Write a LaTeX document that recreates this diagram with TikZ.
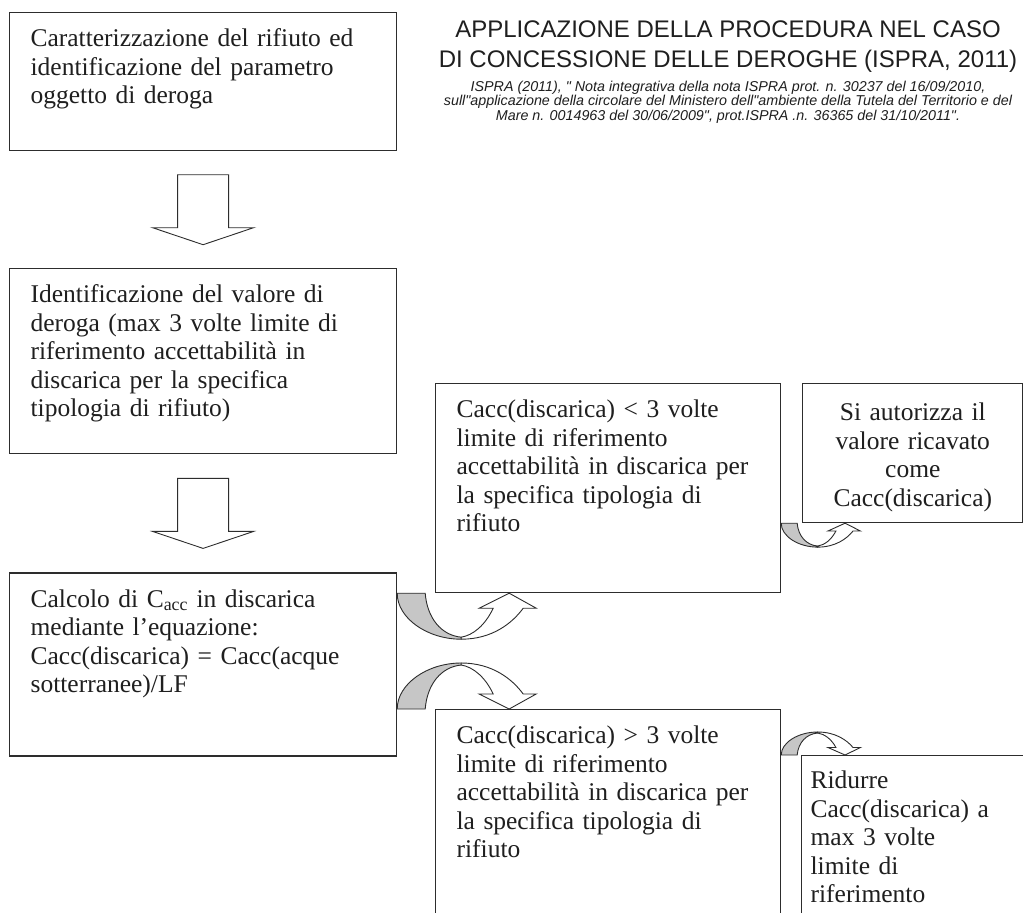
\documentclass[tikz,border=0pt]{standalone}
\usepackage{fontspec}
\setmainfont{Liberation Serif}
\newfontfamily\arial{Liberation Sans}
\usepackage{xcolor}
\usetikzlibrary{positioning,calc}

\definecolor{bordo}{RGB}{45,45,45}
\definecolor{grigio}{RGB}{198,198,198}

\tikzset{
  giu/.pic={
    \draw[freccia] (-25.5,-35) -- (25.5,-35) -- (25.5,18) -- (50.5,18)
      -- (0,35) -- (-50.5,18) -- (-25.5,18) -- cycle;},
  curva/.pic={
    \draw[freccia,fill=grigio] (0,0) -- (28,0) .. controls (30,25) and (44,42) .. (64,44)
      -- (64,46) .. controls (30,46) and (0,25) .. (0,0) -- cycle;
    \draw[freccia] (64,46) .. controls (95,46) and (115,30) .. (126,15) -- (139,15)
      -- (112,0) -- (82,15) -- (96,15) .. controls (88,32) and (76,42) .. (64,44) -- cycle;}
}

\begin{document}
\begin{tikzpicture}[x=1pt,y=-1pt,
  caja/.style={draw=bordo,line width=1.2pt,align=left,anchor=north west,
               inner xsep=21pt,inner ysep=0pt,text height=34pt,text=black!88,
               font=\fontsize{25.5}{28.5}\selectfont},
  freccia/.style={draw=bordo,line width=0.9pt,fill=white,line join=miter}]
  \useasboundingbox (0,0) rectangle (1023,913);
  \clip (0,0) rectangle (1023,913);
  \fill[white] (0,0) rectangle (1023,913);
  % colonna di sinistra
  \node[caja,text width=345pt,text depth=104pt] (b1) at (9,12)
    {Caratterizzazione del rifiuto ed\\identificazione del parametro\\oggetto di deroga};
  \node[caja,text width=345pt,text depth=151pt,below=117pt of b1] (b2)
    {Identificazione del valore di\\deroga (max 3 volte limite di\\riferimento accettabilità in\\discarica per la specifica\\tipologia di rifiuto)};
  \node[caja,text width=345pt,text depth=149pt,below=118pt of b2] (b3)
    {Calcolo di C\textsubscript{acc} in discarica\\mediante l’equazione:\\Cacc(discarica) = Cacc(acque\\sotterranee)/LF};
  % esiti
  \node[caja,text width=303pt,text depth=175pt] (b4) at (435,383)
    {Cacc(discarica) < 3 volte\\limite di riferimento\\accettabilità in discarica per\\la specifica tipologia di\\rifiuto};
  \node[caja,align=center,inner xsep=10pt,text width=200pt,text height=37pt,text depth=102pt,
        right=21pt of b4.north east,anchor=north west] (b5)
    {Si autorizza il\\valore ricavato\\come\\Cacc(discarica)};
  \node[caja,text width=303pt,text depth=206pt] (b6) at (435,709)
    {Cacc(discarica) > 3 volte\\limite di riferimento\\accettabilità in discarica per\\la specifica tipologia di\\rifiuto};
  \node[caja,inner xsep=9pt,text width=240pt,text height=33pt,text depth=180pt] (b7) at (801,755)
    {Ridurre\\Cacc(discarica) a\\max 3 volte\\limite di\\riferimento};
  % titolo
  \node[font=\arial\fontsize{24}{30}\selectfont,align=center,text=black!88] (titolo) at (728,47)
    {APPLICAZIONE DELLA PROCEDURA NEL CASO\\DI CONCESSIONE DELLE DEROGHE (ISPRA, 2011)};
  \node[font=\arial\itshape\fontsize{14.3}{14.5}\selectfont,align=center,text=black!88] (nota) at (728,102)
    {ISPRA (2011), " Nota integrativa della nota ISPRA prot. n. 30237 del 16/09/2010,\\sull"applicazione della circolare del Ministero dell"ambiente della Tutela del Territorio e del\\Mare n. 0014963 del 30/06/2009", prot.ISPRA .n. 36365 del 31/10/2011".};
  % frecce
  \pic at ($(b1.south)!0.5!(b2.north)$) {giu};
  \pic at ($(b2.south)!0.5!(b3.north)$) {giu};
  \pic at (b3.east |- b4.south) {curva};
  \pic[yscale=-1] at (b3.east |- b6.north) {curva};
  \pic[xscale=0.57,yscale=0.52] at (b4.east |- b5.south) {curva};
  \pic[xscale=0.57,yscale=-0.5] at (b6.east |- b7.north) {curva};
\end{tikzpicture}
\end{document}
